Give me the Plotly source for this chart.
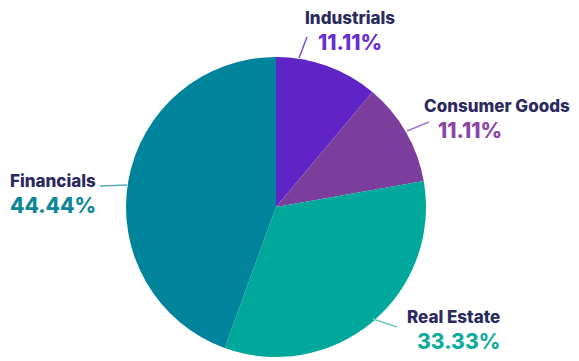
import plotly.graph_objects as go

# Sector allocation data
sectors = ["Industrials", "Consumer Goods", "Real Estate", "Financials"]
holdings = [1, 1, 3, 4]
slice_colors = ["#5F24C6", "#7C3E9C", "#00A89C", "#00849B"]
pct_colors = ["#6A2FD0", "#8A45A8", "#13ABA0", "#0F8799"]
line_colors = ["#7D52D2", "#A678C0", "#6ECBC3", "#55A9B9"]

W, H = 579, 361
NAME_COLOR = "#2B2A5E"
FONT = "Inter"
NAME_SIZE = 17
PCT_SIZE = 21

total = sum(holdings)
pct_labels = [f"{v / total * 100:.2f}%" for v in holdings]

# label placement (pixels): x of name / percent line, split line between the two
# text rows, horizontal anchor, leader line end points
label_layout = {
    "Industrials":    dict(name_x=350, pct_x=350, split=29, anchor="center", line=((299, 58), (307, 37))),
    "Consumer Goods": dict(name_x=423, pct_x=437, split=117, anchor="left", line=((407, 131), (429, 122))),
    "Real Estate":    dict(name_x=406, pct_x=416, split=328, anchor="left", line=((373, 319), (397, 327))),
    "Financials":     dict(name_x=9, pct_x=9, split=192, anchor="left", line=((100, 186), (127, 185))),
}


def px(x):
    return x / W


def py(y):
    return 1 - y / H


fig = go.Figure(
    go.Pie(
        labels=sectors,
        values=holdings,
        sort=False,
        direction="clockwise",
        rotation=0,
        marker=dict(colors=slice_colors, line=dict(width=0)),
        textinfo="none",
        hoverinfo="skip",
        showlegend=False,
        domain=dict(x=[px(126), px(426)], y=[py(357), py(57)]),
    )
)

annotations = []
shapes = []
for name, pct, pc, lc in zip(sectors, pct_labels, pct_colors, line_colors):
    spec = label_layout[name]
    (x0, y0), (x1, y1) = spec["line"]
    shapes.append(dict(type="line", xref="paper", yref="paper",
                       x0=px(x0), y0=py(y0), x1=px(x1), y1=py(y1),
                       line=dict(color=lc, width=1.5)))
    annotations.append(dict(text=name, x=px(spec["name_x"]), y=py(spec["split"]),
                            xref="paper", yref="paper",
                            xanchor=spec["anchor"], yanchor="bottom",
                            showarrow=False, borderpad=0,
                            font=dict(family=FONT, size=NAME_SIZE, color=NAME_COLOR,
                                      weight=800)))
    annotations.append(dict(text=pct, x=px(spec["pct_x"]), y=py(spec["split"]),
                            xref="paper", yref="paper",
                            xanchor=spec["anchor"], yanchor="top",
                            showarrow=False, borderpad=0,
                            font=dict(family=FONT, size=PCT_SIZE, color=pc,
                                      weight=800)))

fig.update_layout(
    width=W,
    height=H,
    margin=dict(l=0, r=0, t=0, b=0),
    paper_bgcolor="white",
    plot_bgcolor="white",
    annotations=annotations,
    shapes=shapes,
)

fig.write_html("out.html")
